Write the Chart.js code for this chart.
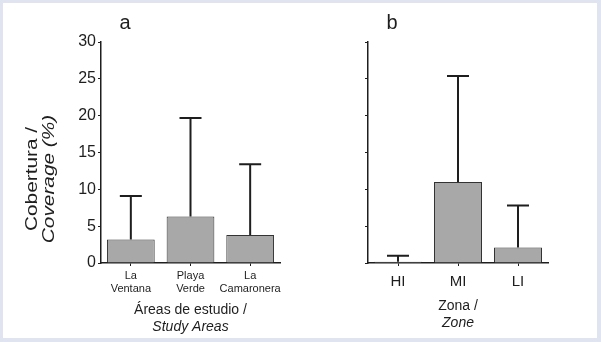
<!DOCTYPE html>
<html>
<head>
<meta charset="utf-8">
<script src="https://cdn.jsdelivr.net/npm/chart.js@4.4.1/dist/chart.umd.min.js"></script>
<style>
  html, body { margin: 0; padding: 0; background: #dfe4f0; }
  #frame { position: absolute; left: 3px; top: 3px; width: 594px; height: 335px; background: #fff; }
  .panel { position: absolute; top: 0; width: 297px; height: 335px; }
  #panelA { left: 0; }
  #panelB { left: 297px; }
</style>
</head>
<body>
<div id="frame">
  <div class="panel" id="panelA"><canvas id="chartAreas"></canvas></div>
  <div class="panel" id="panelB"><canvas id="chartZones"></canvas></div>
</div>
<script>
// panel a - study areas
const areaNames = [['La', 'Ventana'], ['Playa', 'Verde'], ['La', 'Camaronera']]
const areaMean = [3.2, 6.3, 3.8]
const areaUpper = [9.1, 19.7, 13.4]

// panel b - intertidal zones
const zoneNames = ['HI', 'MI', 'LI']
const zoneMean = [0.18, 11.0, 2.1]
const zoneUpper = [1.0, 25.4, 7.8]

const yTicks = [0, 5, 10, 15, 20, 25, 30]

const ink = '#1e1e1e'
const font = 'Arial, "Liberation Sans", sans-serif'

function errorBars(upper) {
  return {
    id: 'errorBars',
    afterDatasetsDraw(chart) {
      const ctx = chart.ctx
      const y = chart.scales.y
      ctx.save()
      ctx.strokeStyle = ink
      ctx.lineWidth = 2
      chart.getDatasetMeta(0).data.forEach((bar, i) => {
        const top = y.getPixelForValue(upper[i])
        ctx.beginPath()
        ctx.moveTo(bar.x, bar.y)
        ctx.lineTo(bar.x, top)
        ctx.moveTo(bar.x - 11, top)
        ctx.lineTo(bar.x + 11, top)
        ctx.stroke()
      })
      ctx.restore()
    }
  }
}

// panel letter, axis titles with an italic english line
function panelText(letter, yTitle, xTitle, xTitleY) {
  return {
    id: 'panelText',
    afterDraw(chart) {
      const ctx = chart.ctx
      const area = chart.chartArea
      ctx.save()
      ctx.fillStyle = ink
      ctx.textAlign = 'center'
      ctx.textBaseline = 'middle'
      ctx.font = '20px ' + font
      ctx.fillText(letter, area.left + 24, area.top - 19)

      if (yTitle) {
        ctx.save()
        ctx.translate(0, 176)
        ctx.rotate(-Math.PI / 2)
        ctx.scale(1.3, 1)
        ctx.textBaseline = 'alphabetic'
        ctx.font = '16px ' + font
        ctx.fillText(yTitle[0], 0, 34)
        ctx.font = 'italic 16px ' + font
        ctx.fillText(yTitle[1], 0, 51)
        ctx.restore()
      }

      const cx = (area.left + area.right) / 2
      ctx.font = '14px ' + font
      ctx.fillText(xTitle[0], cx, xTitleY)
      ctx.font = 'italic 14px ' + font
      ctx.fillText(xTitle[1], cx, xTitleY + 17)
      ctx.restore()
    }
  }
}

function barOptions(opts) {
  return {
    responsive: true,
    maintainAspectRatio: false,
    animation: false,
    layout: { padding: { left: 0, top: 39, right: opts.right, bottom: 0 } },
    plugins: { legend: { display: false }, tooltip: { enabled: false } },
    scales: {
      x: {
        offset: true,
        afterFit: s => { s.height = 75 },
        border: { display: true, color: ink, width: 1.5 },
        grid: { offset: false, drawOnChartArea: false, drawTicks: true, tickLength: 3, color: ink },
        ticks: {
          color: ink,
          padding: opts.xPad,
          autoSkip: false,
          maxRotation: 0,
          minRotation: 0,
          font: { family: font, size: opts.xSize, lineHeight: 1.18 }
        }
      },
      y: {
        min: 0,
        max: 30,
        afterFit: s => { s.width = opts.left },
        afterBuildTicks: s => { s.ticks = yTicks.map(v => ({ value: v })) },
        border: { display: true, color: ink, width: 1.5 },
        grid: { drawOnChartArea: false, drawTicks: true, tickLength: 3, color: ink },
        ticks: {
          color: ink,
          padding: 2,
          font: { family: font, size: 16 },
          callback: v => opts.yLabels ? v : ''
        }
      }
    }
  }
}

new Chart(document.getElementById('chartAreas'), {
  type: 'bar',
  data: {
    labels: areaNames,
    datasets: [{
      data: areaMean,
      backgroundColor: '#a8a8a8',
      borderColor: '#333',
      borderWidth: 1,
      barPercentage: 0.8,
      categoryPercentage: 1.0
    }]
  },
  options: barOptions({ left: 98, right: 20, xPad: 3, xSize: 11, yLabels: true }),
  plugins: [
    errorBars(areaUpper),
    panelText('a', ['Cobertura /', 'Coverage (%)'], ['Áreas de estudio /', 'Study Areas'], 307)
  ]
})

new Chart(document.getElementById('chartZones'), {
  type: 'bar',
  data: {
    labels: zoneNames,
    datasets: [{
      data: zoneMean,
      backgroundColor: '#a8a8a8',
      borderColor: '#333',
      borderWidth: 1,
      barPercentage: 0.8,
      categoryPercentage: 1.0
    }]
  },
  options: barOptions({ left: 68, right: 49, xPad: 7, xSize: 15, yLabels: false }),
  plugins: [
    errorBars(zoneUpper),
    panelText('b', null, ['Zona /', 'Zone'], 303)
  ]
})
</script>
</body>
</html>
